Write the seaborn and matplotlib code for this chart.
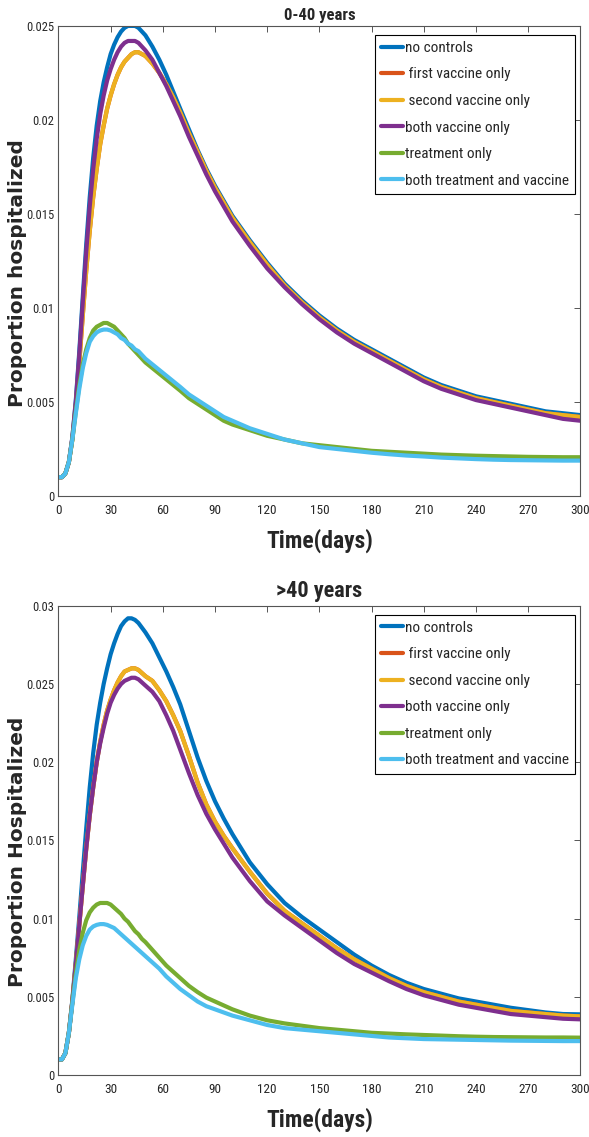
import matplotlib
matplotlib.use("Agg")
import matplotlib.pyplot as plt
import seaborn as sns
from matplotlib import font_manager as fm
from matplotlib.ticker import FixedLocator, FixedFormatter

sns.set_style("white")


def pick_narrow():
    # the reference uses a condensed sans; fall back to Liberation Sans a bit smaller
    fl = fm.fontManager.ttflist
    names = {f.name for f in fl}
    for n in ["Liberation Sans Narrow", "Roboto Condensed", "Open Sans Condensed"]:
        if n in names:
            return n, "normal", 1.0
    for n in ["Noto Sans", "DejaVu Sans", "Open Sans", "Roboto"]:
        if any(f.name == n and str(f.stretch) == "condensed" for f in fl):
            return n, "condensed", 1.0
    return "Liberation Sans", "normal", 0.85


NARROW, STRETCH, S = pick_narrow()
plt.rcParams["font.family"] = [NARROW, "DejaVu Sans"]
plt.rcParams["font.stretch"] = STRETCH

# ---- data ----
days = [0, 2, 4, 6, 8, 10, 12, 14, 16, 18,
        20, 22, 24, 26, 28, 30, 32, 34, 36, 38,
        40, 42, 44, 46, 48, 50, 54, 58, 62, 66,
        70, 75, 80, 85, 90, 95, 100, 110, 120, 130,
        140, 150, 160, 170, 180, 190, 200, 210, 220, 230,
        240, 250, 260, 270, 280, 290, 300]

labels = ["no controls", " first vaccine only", " second vaccine only",
          "both vaccine only", "treatment only", "both treatment and vaccine"]
colors = ["#0072BD", "#D95319", "#EDB120", "#7E2F8E", "#77AC30", "#4DBEEE"]

# 0-40 years
young_none = [.0010, .0010, .0012, .0018, .0031, .0051, .0077, .0106, .0134, .0159,
              .0180, .0197, .0210, .0220, .0228, .0235, .0240, .0244, .0247, .0249,
              .0250, .0250, .0250, .0249, .0247, .0245, .0239, .0232, .0224, .0215,
              .0206, .0195, .0184, .0174, .0165, .0157, .0149, .0136, .0124, .0113,
              .0104, .0096, .0089, .0083, .0078, .0073, .0068, .0063, .0059, .0056,
              .0053, .0051, .0049, .0047, .0045, .0044, .0043]
young_first = [.0010, .0010, .0012, .0018, .0030, .0048, .0071, .0096, .0120, .0141,
               .0159, .0174, .0187, .0197, .0206, .0213, .0219, .0224, .0228, .0231,
               .0233, .0235, .0236, .0236, .0235, .0234, .0230, .0225, .0219, .0212,
               .0204, .0193, .0183, .0173, .0164, .0156, .0148, .0135, .0123, .0112,
               .0103, .0095, .0088, .0082, .0077, .0072, .0067, .0062, .0058, .0055,
               .0052, .0050, .0048, .0046, .0044, .0043, .0042]
young_second = [.0010, .0010, .0012, .0018, .0030, .0048, .0071, .0096, .0120, .0141,
                .0159, .0174, .0187, .0197, .0206, .0213, .0219, .0224, .0228, .0231,
                .0233, .0235, .0236, .0236, .0235, .0234, .0230, .0225, .0219, .0212,
                .0204, .0193, .0183, .0173, .0164, .0156, .0148, .0135, .0123, .0112,
                .0103, .0095, .0088, .0082, .0077, .0072, .0067, .0062, .0058, .0055,
                .0052, .0050, .0048, .0046, .0044, .0043, .0042]
young_both_vac = [.0010, .0010, .0012, .0018, .0031, .0050, .0075, .0103, .0130, .0154,
                  .0174, .0190, .0203, .0213, .0221, .0227, .0232, .0236, .0239, .0241,
                  .0242, .0242, .0242, .0241, .0239, .0237, .0232, .0225, .0218, .0210,
                  .0202, .0191, .0181, .0171, .0162, .0154, .0146, .0133, .0121, .0111,
                  .0102, .0094, .0087, .0081, .0076, .0071, .0066, .0061, .0057, .0054,
                  .0051, .0049, .0047, .0045, .0043, .0041, .0040]
young_treat = [.0010, .0010, .0012, .0018, .0030, .0045, .0059, .0070, .0078, .0084,
               .0088, .0090, .0091, .0092, .0092, .0091, .0090, .0088, .0086, .0084,
               .0081, .0079, .0077, .0075, .0073, .0071, .0068, .0065, .0062, .0059,
               .0056, .0052, .0049, .0046, .0043, .0040, .0038, .0035, .0032, .0030,
               .0028, .0027, .0026, .0025, .0024, .00235, .0023, .00225, .0022, .00217,
               .00214, .00212, .0021, .00208, .00207, .00206, .00206]
young_treat_vac = [.0010, .0010, .0012, .0018, .0030, .0044, .0057, .0068, .0076, .0082,
                   .0085, .0087, .0088, .00885, .00885, .0088, .0087, .0086, .0084, .0083,
                   .0081, .0080, .0078, .0077, .0075, .0073, .0070, .0067, .0064, .0061,
                   .0058, .0054, .0051, .0048, .0045, .0042, .0040, .0036, .0033, .0030,
                   .0028, .0026, .0025, .0024, .0023, .00222, .00215, .0021, .00204, .0020,
                   .00196, .00193, .00191, .0019, .00189, .00188, .00188]

# >40 years
old_none = [.0010, .0010, .0014, .0027, .0048, .0074, .0101, .0130, .0158, .0184,
            .0206, .0224, .0238, .0250, .0260, .0269, .0276, .0282, .0287, .0290,
            .0292, .0292, .0291, .0289, .0286, .0283, .0276, .0267, .0258, .0248,
            .0237, .0220, .0203, .0188, .0175, .0164, .0154, .0136, .0122, .0110,
            .0101, .0093, .0085, .0077, .0070, .0064, .0059, .0055, .0052, .0049,
            .0047, .0045, .0043, .00415, .0040, .0039, .00388]
old_first = [.0010, .0010, .0014, .0027, .0047, .0071, .0096, .0121, .0145, .0166,
             .0184, .0200, .0213, .0224, .0233, .0240, .0246, .0251, .0255, .0258,
             .0259, .0260, .0260, .0259, .0257, .0255, .0252, .0246, .0239, .0230,
             .0220, .0204, .0187, .0173, .0162, .0153, .0145, .0130, .0116, .0105,
             .0097, .0089, .0081, .0074, .0068, .0062, .0057, .0053, .0050, .0047,
             .0045, .0043, .0041, .0040, .0039, .0038, .00375]
old_second = [.0010, .0010, .0014, .0027, .0047, .0071, .0096, .0121, .0145, .0166,
              .0184, .0200, .0213, .0224, .0233, .0240, .0246, .0251, .0255, .0258,
              .0259, .0260, .0260, .0259, .0257, .0255, .0252, .0246, .0239, .0230,
              .0220, .0204, .0187, .0173, .0162, .0153, .0145, .0130, .0116, .0105,
              .0097, .0089, .0081, .0074, .0068, .0062, .0057, .0053, .0050, .0047,
              .0045, .0043, .0041, .0040, .0039, .0038, .00375]
old_both_vac = [.0010, .0010, .0014, .0027, .0047, .0071, .0096, .0121, .0145, .0166,
                .0184, .0200, .0212, .0222, .0231, .0238, .0243, .0247, .0250, .0252,
                .0253, .0254, .0254, .0253, .0251, .0249, .0245, .0239, .0230, .0220,
                .0208, .0193, .0179, .0167, .0157, .0148, .0139, .0124, .0111, .0102,
                .0094, .0086, .0078, .0071, .00655, .0060, .0055, .0051, .0048, .0045,
                .0043, .0041, .0039, .0038, .0037, .0036, .00356]
old_treat = [.0010, .0010, .0014, .0027, .0046, .0065, .0080, .0091, .0099, .0104,
             .0107, .0109, .0110, .0110, .0110, .0109, .0107, .0105, .0103, .0100,
             .0098, .0095, .0092, .0090, .0087, .0085, .0080, .0075, .0070, .0066,
             .0062, .0057, .0053, .00495, .0047, .00445, .0042, .0038, .0035, .0033,
             .00315, .0030, .0029, .0028, .0027, .00265, .0026, .00256, .00252, .00248,
             .00245, .00243, .00242, .00241, .0024, .0024, .00239]
old_treat_vac = [.0010, .0010, .0014, .0027, .0045, .0062, .0074, .0083, .0089, .0093,
                 .0095, .0096, .00965, .00965, .0096, .0095, .0094, .0092, .0090, .0088,
                 .0086, .0084, .0082, .0080, .0078, .0076, .0072, .0068, .0063, .0059,
                 .0055, .0051, .0047, .0044, .0042, .0040, .0038, .0035, .0032, .0030,
                 .0029, .0028, .0027, .0026, .0025, .0024, .00235, .0023, .00228, .00226,
                 .00224, .00222, .0022, .00219, .00218, .00217, .00217]

x_ticks = [0, 30, 60, 90, 120, 150, 180, 210, 240, 270, 300]
y_ticks_young = [0, 0.005, 0.01, 0.015, 0.02, 0.025]
y_labels_young = ["0", "0.005", "0.01", "0.015", "0.02", "0.025"]
y_ticks_old = [0, 0.005, 0.01, 0.015, 0.02, 0.025, 0.03]
y_labels_old = ["0", "0.005", "0.01", "0.015", "0.02", "0.025", "0.03"]

LEG_FS = 11 * S
LEG_PX = LEG_FS * 100 / 72


def draw_panel(ax, series, yticks, ylabels, title, title_size, title_pad, ylabel):
    for vals, lab, col in zip(series, labels, colors):
        sns.lineplot(x=days, y=vals, color=col, lw=3.0, label=lab, ax=ax)
    ax.set_xlim(0, 300)
    ax.set_ylim(yticks[0], yticks[-1])
    ax.xaxis.set_major_locator(FixedLocator(x_ticks))
    ax.xaxis.set_major_formatter(FixedFormatter([str(t) for t in x_ticks]))
    ax.yaxis.set_major_locator(FixedLocator(yticks))
    ax.yaxis.set_major_formatter(FixedFormatter(ylabels))
    ax.tick_params(direction="in", length=4, width=0.7, color="#555555",
                   top=True, right=True, labelsize=9 * S)
    ax.tick_params(axis="x", pad=6, labelsize=9.5 * S)
    ax.tick_params(axis="y", pad=3)
    for sp in ax.spines.values():
        sp.set_color("#555555")
        sp.set_linewidth(0.8)
    ax.set_title(title, fontsize=title_size * S, fontweight="bold", pad=title_pad)
    ax.set_xlabel("Time(days)", fontsize=17 * S, fontweight="bold")
    ax.xaxis.set_label_coords(0.5, -0.07)
    ax.set_ylabel(ylabel, fontsize=14.5, fontweight="bold",
                  family=["DejaVu Sans"], stretch="normal")
    ax.yaxis.set_label_coords(-0.06, 0.475)
    handles, labs = ax.get_legend_handles_labels()
    leg = ax.legend(handles, labs, loc="upper right", bbox_to_anchor=(0.9897, 0.981),
                    borderaxespad=0, fontsize=LEG_FS, frameon=True, fancybox=False,
                    edgecolor="black", framealpha=1, handlelength=22 / LEG_PX,
                    handletextpad=0.12, labelspacing=(27.2 - 0.96 * LEG_PX) / LEG_PX,
                    borderpad=0.4)
    leg.get_frame().set_linewidth(0.8)


fig = plt.figure(figsize=(5.89, 11.37), dpi=100)
ax1 = fig.add_axes([0.0992, 0.5638, 0.8862, 0.4134])
ax2 = fig.add_axes([0.0992, 0.0545, 0.8862, 0.4127])

draw_panel(ax1, [young_none, young_first, young_second, young_both_vac, young_treat, young_treat_vac],
           y_ticks_young, y_labels_young, "0-40 years", 12, 4, "Proportion hospitalized")
draw_panel(ax2, [old_none, old_first, old_second, old_both_vac, old_treat, old_treat_vac],
           y_ticks_old, y_labels_old, ">40 years", 16, 6, "Proportion Hospitalized")

fig.savefig("out.png", dpi=100)
